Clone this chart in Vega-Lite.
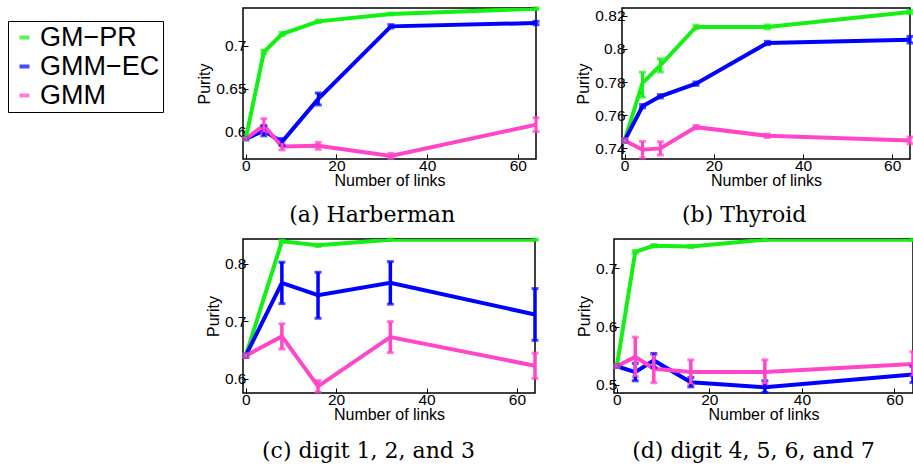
{
  "$schema": "https://vega.github.io/schema/vega-lite/v6.json",
  "padding": {"left": 7, "top": 5, "right": 0, "bottom": 0},
  "background": "white",
  "datasets": {
    "harberman": [
      {"method": "GM−PR", "links": 0, "purity": 0.5915, "lo": 0.5900, "hi": 0.5930},
      {"method": "GM−PR", "links": 4, "purity": 0.6926, "lo": 0.6906, "hi": 0.6946},
      {"method": "GM−PR", "links": 8, "purity": 0.7136, "lo": 0.7116, "hi": 0.7156},
      {"method": "GM−PR", "links": 16, "purity": 0.7284, "lo": 0.7269, "hi": 0.7299},
      {"method": "GM−PR", "links": 32, "purity": 0.7370, "lo": 0.7360, "hi": 0.7380},
      {"method": "GM−PR", "links": 64, "purity": 0.7432, "lo": 0.7422, "hi": 0.7442},
      {"method": "GMM−EC", "links": 0, "purity": 0.5915, "lo": 0.5905, "hi": 0.5925},
      {"method": "GMM−EC", "links": 4, "purity": 0.6010, "lo": 0.5950, "hi": 0.6070},
      {"method": "GMM−EC", "links": 8, "purity": 0.5880, "lo": 0.5840, "hi": 0.5920},
      {"method": "GMM−EC", "links": 16, "purity": 0.6380, "lo": 0.6310, "hi": 0.6450},
      {"method": "GMM−EC", "links": 32, "purity": 0.7226, "lo": 0.7206, "hi": 0.7246},
      {"method": "GMM−EC", "links": 64, "purity": 0.7265, "lo": 0.7245, "hi": 0.7285},
      {"method": "GMM", "links": 0, "purity": 0.5915, "lo": 0.5905, "hi": 0.5925},
      {"method": "GMM", "links": 4, "purity": 0.6070, "lo": 0.5990, "hi": 0.6150},
      {"method": "GMM", "links": 8, "purity": 0.5825, "lo": 0.5785, "hi": 0.5865},
      {"method": "GMM", "links": 16, "purity": 0.5833, "lo": 0.5793, "hi": 0.5873},
      {"method": "GMM", "links": 32, "purity": 0.5716, "lo": 0.5686, "hi": 0.5746},
      {"method": "GMM", "links": 64, "purity": 0.6080, "lo": 0.6000, "hi": 0.6160}
    ],
    "thyroid": [
      {"method": "GM−PR", "links": 0, "purity": 0.7448, "lo": 0.7438, "hi": 0.7458},
      {"method": "GM−PR", "links": 4, "purity": 0.7794, "lo": 0.7709, "hi": 0.7859},
      {"method": "GM−PR", "links": 8, "purity": 0.7900, "lo": 0.7860, "hi": 0.7940},
      {"method": "GM−PR", "links": 16, "purity": 0.8132, "lo": 0.8122, "hi": 0.8142},
      {"method": "GM−PR", "links": 32, "purity": 0.8132, "lo": 0.8120, "hi": 0.8144},
      {"method": "GM−PR", "links": 64, "purity": 0.8222, "lo": 0.8212, "hi": 0.8232},
      {"method": "GMM−EC", "links": 0, "purity": 0.7448, "lo": 0.7438, "hi": 0.7458},
      {"method": "GMM−EC", "links": 4, "purity": 0.7654, "lo": 0.7644, "hi": 0.7664},
      {"method": "GMM−EC", "links": 8, "purity": 0.7714, "lo": 0.7704, "hi": 0.7724},
      {"method": "GMM−EC", "links": 16, "purity": 0.7790, "lo": 0.7780, "hi": 0.7800},
      {"method": "GMM−EC", "links": 32, "purity": 0.8035, "lo": 0.8025, "hi": 0.8045},
      {"method": "GMM−EC", "links": 64, "purity": 0.8055, "lo": 0.8035, "hi": 0.8075},
      {"method": "GMM", "links": 0, "purity": 0.7448, "lo": 0.7438, "hi": 0.7458},
      {"method": "GMM", "links": 4, "purity": 0.7392, "lo": 0.7342, "hi": 0.7442},
      {"method": "GMM", "links": 8, "purity": 0.7400, "lo": 0.7360, "hi": 0.7440},
      {"method": "GMM", "links": 16, "purity": 0.7528, "lo": 0.7518, "hi": 0.7538},
      {"method": "GMM", "links": 32, "purity": 0.7476, "lo": 0.7466, "hi": 0.7486},
      {"method": "GMM", "links": 64, "purity": 0.7448, "lo": 0.7428, "hi": 0.7468}
    ],
    "digit123": [
      {"method": "GM−PR", "links": 0, "purity": 0.6400, "lo": 0.6370, "hi": 0.6430},
      {"method": "GM−PR", "links": 8, "purity": 0.8387, "lo": 0.8367, "hi": 0.8407},
      {"method": "GM−PR", "links": 16, "purity": 0.8318, "lo": 0.8298, "hi": 0.8338},
      {"method": "GM−PR", "links": 32, "purity": 0.8416, "lo": 0.8406, "hi": 0.8426},
      {"method": "GM−PR", "links": 64, "purity": 0.8416, "lo": 0.8406, "hi": 0.8426},
      {"method": "GMM−EC", "links": 0, "purity": 0.6400, "lo": 0.6370, "hi": 0.6430},
      {"method": "GMM−EC", "links": 8, "purity": 0.7665, "lo": 0.7305, "hi": 0.8025},
      {"method": "GMM−EC", "links": 16, "purity": 0.7450, "lo": 0.7050, "hi": 0.7850},
      {"method": "GMM−EC", "links": 32, "purity": 0.7665, "lo": 0.7295, "hi": 0.8035},
      {"method": "GMM−EC", "links": 64, "purity": 0.7116, "lo": 0.6666, "hi": 0.7566},
      {"method": "GMM", "links": 0, "purity": 0.6400, "lo": 0.6370, "hi": 0.6430},
      {"method": "GMM", "links": 8, "purity": 0.6734, "lo": 0.6514, "hi": 0.6954},
      {"method": "GMM", "links": 16, "purity": 0.5867, "lo": 0.5767, "hi": 0.5967},
      {"method": "GMM", "links": 32, "purity": 0.6722, "lo": 0.6452, "hi": 0.6992},
      {"method": "GMM", "links": 64, "purity": 0.6225, "lo": 0.6005, "hi": 0.6445}
    ],
    "digit4567": [
      {"method": "GM−PR", "links": 0, "purity": 0.5318, "lo": 0.5298, "hi": 0.5338},
      {"method": "GM−PR", "links": 4, "purity": 0.7283, "lo": 0.7263, "hi": 0.7303},
      {"method": "GM−PR", "links": 8, "purity": 0.7387, "lo": 0.7367, "hi": 0.7407},
      {"method": "GM−PR", "links": 16, "purity": 0.7376, "lo": 0.7356, "hi": 0.7396},
      {"method": "GM−PR", "links": 32, "purity": 0.7490, "lo": 0.7480, "hi": 0.7500},
      {"method": "GM−PR", "links": 64, "purity": 0.7490, "lo": 0.7480, "hi": 0.7500},
      {"method": "GMM−EC", "links": 0, "purity": 0.5320, "lo": 0.5300, "hi": 0.5340},
      {"method": "GMM−EC", "links": 4, "purity": 0.5220, "lo": 0.5070, "hi": 0.5370},
      {"method": "GMM−EC", "links": 8, "purity": 0.5420, "lo": 0.5300, "hi": 0.5540},
      {"method": "GMM−EC", "links": 16, "purity": 0.5046, "lo": 0.4966, "hi": 0.5126},
      {"method": "GMM−EC", "links": 32, "purity": 0.4960, "lo": 0.4870, "hi": 0.5070},
      {"method": "GMM−EC", "links": 64, "purity": 0.5180, "lo": 0.5040, "hi": 0.5320},
      {"method": "GMM", "links": 0, "purity": 0.5320, "lo": 0.5300, "hi": 0.5340},
      {"method": "GMM", "links": 4, "purity": 0.5480, "lo": 0.5140, "hi": 0.5820},
      {"method": "GMM", "links": 8, "purity": 0.5277, "lo": 0.5037, "hi": 0.5517},
      {"method": "GMM", "links": 16, "purity": 0.5220, "lo": 0.5010, "hi": 0.5430},
      {"method": "GMM", "links": 32, "purity": 0.5220, "lo": 0.5010, "hi": 0.5430},
      {"method": "GMM", "links": 64, "purity": 0.5360, "lo": 0.5150, "hi": 0.5570}
    ]
  },
  "columns": 2,
  "align": "none",
  "spacing": {"row": 9, "column": 34},
  "concat": [
    {
      "width": 293, "height": 151,
      "data": {"name": "harberman"},
      "title": {"text": "(a) Harberman", "dx": 4},
      "encoding": {
        "x": {"field": "links", "type": "quantitative", "scale": {"domain": [-0.6, 64], "nice": false, "zero": false}, "axis": {"values": [0, 20, 40, 60], "format": "d", "title": "Number of links", "labelOverlap": false}},
        "color": {"field": "method", "type": "nominal", "title": null, "scale": {"domain": ["GM−PR", "GMM−EC", "GMM"], "range": ["#14f014", "#0000ff", "#ff45c8"]}}
      },
      "layer": [
        {"mark": {"type": "line", "strokeWidth": 4, "clip": true},
         "encoding": {"y": {"field": "purity", "type": "quantitative", "scale": {"domain": [0.568, 0.744], "nice": false, "zero": false}, "axis": {"values": [0.6, 0.65, 0.7], "format": ".2~f", "title": "Purity", "labelOverlap": false}}}},
        {"mark": {"type": "errorbar", "thickness": 3, "ticks": {"size": 7, "thickness": 3}},
         "encoding": {"y": {"field": "lo", "type": "quantitative", "title": "Purity", "axis": {"values": [0.6, 0.65, 0.7], "format": ".2~f", "title": "Purity", "labelOverlap": false}}, "y2": {"field": "hi"}}}
      ]
    },
    {
      "width": 288, "height": 151,
      "data": {"name": "thyroid"},
      "title": {"text": "(b) Thyroid", "dx": -0.5},
      "encoding": {
        "x": {"field": "links", "type": "quantitative", "scale": {"domain": [-0.6, 64], "nice": false, "zero": false}, "axis": {"values": [0, 20, 40, 60], "format": "d", "title": "Number of links", "labelOverlap": false}},
        "color": {"field": "method", "type": "nominal", "title": null, "scale": {"domain": ["GM−PR", "GMM−EC", "GMM"], "range": ["#14f014", "#0000ff", "#ff45c8"]}}
      },
      "layer": [
        {"mark": {"type": "line", "strokeWidth": 4, "clip": true},
         "encoding": {"y": {"field": "purity", "type": "quantitative", "scale": {"domain": [0.7336, 0.8246], "nice": false, "zero": false}, "axis": {"values": [0.74, 0.76, 0.78, 0.8, 0.82], "format": ".2~f", "title": "Purity", "labelOverlap": false}}}},
        {"mark": {"type": "errorbar", "thickness": 3, "ticks": {"size": 7, "thickness": 3}},
         "encoding": {"y": {"field": "lo", "type": "quantitative", "title": "Purity", "axis": {"values": [0.74, 0.76, 0.78, 0.8, 0.82], "format": ".2~f", "title": "Purity", "labelOverlap": false}}, "y2": {"field": "hi"}}}
      ]
    },
    {
      "width": 292, "height": 154,
      "data": {"name": "digit123"},
      "title": {"text": "(c) digit 1, 2, and 3", "dx": -3.5, "offset": 18},
      "encoding": {
        "x": {"field": "links", "type": "quantitative", "scale": {"domain": [-0.6, 64], "nice": false, "zero": false}, "axis": {"values": [0, 20, 40, 60], "format": "d", "title": "Number of links", "labelOverlap": false}},
        "color": {"field": "method", "type": "nominal", "title": null, "scale": {"domain": ["GM−PR", "GMM−EC", "GMM"], "range": ["#14f014", "#0000ff", "#ff45c8"]}}
      },
      "layer": [
        {"mark": {"type": "line", "strokeWidth": 4, "clip": true},
         "encoding": {"y": {"field": "purity", "type": "quantitative", "scale": {"domain": [0.5751, 0.8428], "nice": false, "zero": false}, "axis": {"values": [0.6, 0.7, 0.8], "format": ".1f", "title": "Purity", "labelOverlap": false}}}},
        {"mark": {"type": "errorbar", "thickness": 3.5, "ticks": {"size": 7, "thickness": 3}},
         "encoding": {"y": {"field": "lo", "type": "quantitative", "title": "Purity", "axis": {"values": [0.6, 0.7, 0.8], "format": ".1f", "title": "Purity", "labelOverlap": false}}, "y2": {"field": "hi"}}}
      ]
    },
    {
      "width": 299, "height": 154,
      "data": {"name": "digit4567"},
      "title": {"text": "(d) digit 4, 5, 6, and 7", "dx": 7, "offset": 18},
      "encoding": {
        "x": {"field": "links", "type": "quantitative", "scale": {"domain": [-0.6, 64], "nice": false, "zero": false}, "axis": {"values": [0, 20, 40, 60], "format": "d", "title": "Number of links", "labelOverlap": false}},
        "color": {"field": "method", "type": "nominal", "title": null, "scale": {"domain": ["GM−PR", "GMM−EC", "GMM"], "range": ["#14f014", "#0000ff", "#ff45c8"]}}
      },
      "layer": [
        {"mark": {"type": "line", "strokeWidth": 4, "clip": true},
         "encoding": {"y": {"field": "purity", "type": "quantitative", "scale": {"domain": [0.4861, 0.7503], "nice": false, "zero": false}, "axis": {"values": [0.5, 0.6, 0.7], "format": ".1f", "title": "Purity", "labelOverlap": false}}}},
        {"mark": {"type": "errorbar", "thickness": 3.5, "ticks": {"size": 7, "thickness": 3}},
         "encoding": {"y": {"field": "lo", "type": "quantitative", "title": "Purity", "axis": {"values": [0.5, 0.6, 0.7], "format": ".1f", "title": "Purity", "labelOverlap": false}}, "y2": {"field": "hi"}}}
      ]
    }
  ],
  "config": {
    "font": "Liberation Sans",
    "view": {"stroke": "black", "strokeWidth": 1.5},
    "axis": {
      "domain": false, "grid": false, "ticks": true, "tickSize": -5, "tickColor": "black", "tickWidth": 1,
      "labelFont": "Liberation Sans", "labelFontSize": 15.5, "labelColor": "black", "labelFlush": false, "labelOverlap": false,
      "titleFont": "Liberation Sans", "titleFontSize": 16, "titleFontWeight": "normal", "titleColor": "black"
    },
    "axisX": {"labelPadding": 4, "titlePadding": -1},
    "axisY": {"labelPadding": 2, "titlePadding": 3},
    "title": {"font": "DejaVu Serif", "fontSize": 22, "fontWeight": "normal", "color": "black", "orient": "bottom", "anchor": "middle", "frame": "bounds", "offset": 16},
    "legend": {
      "orient": "none", "legendX": -235, "legendY": 13,
      "labelFont": "Liberation Sans", "labelFontSize": 27, "labelColor": "black", "labelOffset": 2, "labelLimit": 400,
      "labelExpr": "datum.label + '\u2002'",
      "symbolType": "stroke", "symbolSize": 100, "symbolStrokeWidth": 4,
      "strokeColor": "black", "fillColor": "white", "padding": 3, "rowPadding": 1
    }
  }
}
